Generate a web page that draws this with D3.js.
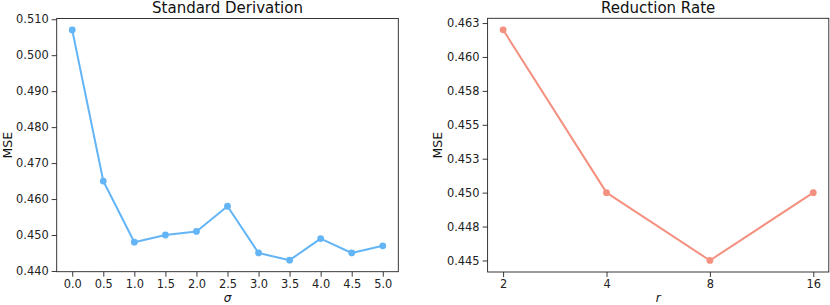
<!DOCTYPE html>
<html>
<head>
<meta charset="utf-8">
<script src="https://cdn.jsdelivr.net/npm/d3@7"></script>
<style>
  html, body { margin: 0; padding: 0; background: #fff; }
  svg { display: block; font-family: "DejaVu Sans", sans-serif; }
</style>
</head>
<body>
<svg id="chart" width="830" height="305"></svg>
<script>
// ---- data ----
const sigmaValues = [0.0, 0.5, 1.0, 1.5, 2.0, 2.5, 3.0, 3.5, 4.0, 4.5, 5.0];
const sigmaMSE = [0.507, 0.465, 0.448, 0.450, 0.451, 0.458, 0.445, 0.443, 0.449, 0.445, 0.447];
const sigmaTicks = [0.0, 0.5, 1.0, 1.5, 2.0, 2.5, 3.0, 3.5, 4.0, 4.5, 5.0];
const sigmaTickLabels = ["0.0", "0.5", "1.0", "1.5", "2.0", "2.5", "3.0", "3.5", "4.0", "4.5", "5.0"];
const leftYTicks = [0.44, 0.45, 0.46, 0.47, 0.48, 0.49, 0.50, 0.51];
const leftYTickLabels = ["0.440", "0.450", "0.460", "0.470", "0.480", "0.490", "0.500", "0.510"];

const rateCategories = ["2", "4", "8", "16"];
const rateMSE = [0.462, 0.450, 0.445, 0.450];
const rightYTicks = [0.445, 0.4475, 0.450, 0.4525, 0.455, 0.4575, 0.460, 0.4625];
const rightYTickLabels = ["0.445", "0.448", "0.450", "0.453", "0.455", "0.458", "0.460", "0.463"];

const svg = d3.select("#chart");
const blue = "#64B5F6";
const salmon = "#F4907F";

function padDomain(vals, frac) {
  const [a, b] = d3.extent(vals);
  const m = (b - a) * frac;
  return [a - m, b + m];
}

function drawPanel(opts) {
  const g = svg.append("g");
  const { x, y, left, right, top, bottom } = opts;

  const yAxis = d3.axisLeft(y).tickValues(opts.yTicks)
    .tickFormat((d, i) => opts.yTickLabels[i]).tickSize(5).tickPadding(3);
  const ya = g.append("g").attr("transform", `translate(${left},0)`).call(yAxis);
  const xAxis = d3.axisBottom(x).tickSize(5).tickPadding(3);
  if (opts.xTicks) xAxis.tickValues(opts.xTicks).tickFormat((d, i) => opts.xTickLabels[i]);
  const xa = g.append("g").attr("transform", `translate(0,${bottom})`).call(xAxis);
  [ya, xa].forEach(a => {
    a.attr("font-family", null).attr("font-size", null);
    a.select(".domain").remove();
    a.selectAll("line").attr("stroke", "#222").attr("stroke-width", 0.9);
    a.selectAll("text").attr("fill", "#222").style("font-size", "11.4px")
      .style("font-family", "'DejaVu Sans', sans-serif");
  });

  // frame
  g.append("rect").attr("x", left).attr("y", top)
    .attr("width", right - left).attr("height", bottom - top)
    .attr("fill", "none").attr("stroke", "#222").attr("stroke-width", 0.9);

  // line + markers
  const line = d3.line().x(d => x(d[0])).y(d => y(d[1]));
  g.append("path").datum(opts.points).attr("d", line)
    .attr("fill", "none").attr("stroke", opts.color).attr("stroke-width", 2)
    .attr("stroke-linejoin", "round");
  g.selectAll("circle.pt").data(opts.points).join("circle")
    .attr("class", "pt").attr("cx", d => x(d[0])).attr("cy", d => y(d[1]))
    .attr("r", 3.4).attr("fill", opts.color);

  // title
  g.append("text").attr("x", (left + right) / 2).attr("y", 12.8)
    .attr("text-anchor", "middle").style("font-size", "15px").attr("fill", "#111")
    .text(opts.title);
  // y label
  g.append("text")
    .attr("transform", `translate(${opts.yLabelX},${(top + bottom) / 2}) rotate(-90)`)
    .attr("text-anchor", "middle").style("font-size", "12.5px").attr("fill", "#111")
    .text("MSE");
  // x label
  g.append("text").attr("x", (left + right) / 2).attr("y", 301.8)
    .attr("text-anchor", "middle").style("font-size", "12px").style("font-style", "italic")
    .attr("fill", "#111").text(opts.xLabel);
}

// left panel
{
  const left = 56.7, right = 398.3, top = 18.5, bottom = 271.7;
  const x = d3.scaleLinear().domain(padDomain(sigmaValues, 0.05)).range([left, right]);
  const y = d3.scaleLinear().domain(padDomain(sigmaMSE, 0.05)).range([bottom, top]);
  drawPanel({
    x, y, left, right, top, bottom,
    yTicks: leftYTicks, yTickLabels: leftYTickLabels,
    xTicks: sigmaTicks, xTickLabels: sigmaTickLabels,
    points: sigmaValues.map((s, i) => [s, sigmaMSE[i]]),
    color: blue, title: "Standard Derivation", xLabel: "σ", yLabelX: 12.2
  });
}
// right panel
{
  const left = 487.6, right = 828.8, top = 18.3, bottom = 272;
  const x = d3.scalePoint().domain(rateCategories).range([left, right]).padding(0.15);
  const y = d3.scaleLinear().domain(padDomain(rateMSE, 0.05)).range([bottom, top]);
  drawPanel({
    x, y, left, right, top, bottom,
    yTicks: rightYTicks, yTickLabels: rightYTickLabels,
    points: rateCategories.map((c, i) => [c, rateMSE[i]]),
    color: salmon, title: "Reduction Rate", xLabel: "r", yLabelX: 442.3
  });
}
</script>
</body>
</html>
